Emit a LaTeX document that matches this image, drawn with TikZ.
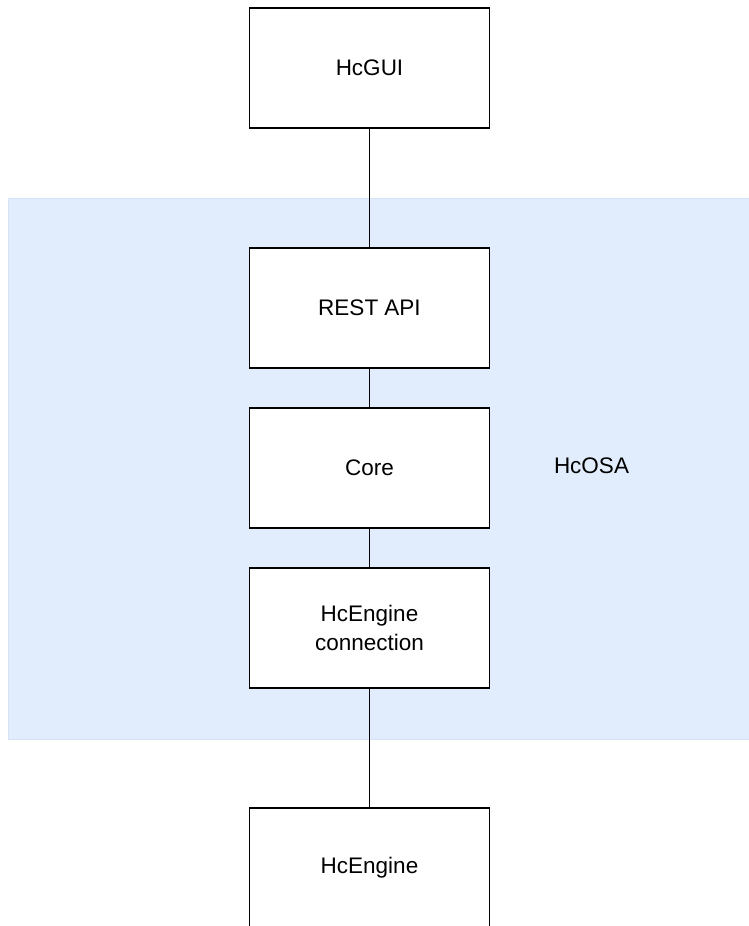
\documentclass[tikz,border=0pt]{standalone}
\usepackage{fontspec}
\setmainfont{Liberation Sans}
\definecolor{grpfill}{HTML}{E1EDFC}
\definecolor{grpline}{HTML}{D4E2F5}
\begin{document}
\begin{tikzpicture}[x=1pt,y=-1pt,
  blk/.style={draw=black, line width=1.2pt, fill=white, minimum width=240pt, minimum height=120pt,
    inner sep=0pt, align=center, font=\fontsize{22.5}{29}\selectfont},
  conn/.style={draw=black, line width=1.2pt},
  lbl/.style={font=\fontsize{22.5}{29}\selectfont, inner sep=0pt}]
\useasboundingbox (0,0) rectangle (749,926);
\clip (0,0) rectangle (749,926);
\fill[grpfill, draw=grpline, line width=0.8pt] (8,198.5) rectangle (760,739.5);
\node[lbl] (osa) at (591.5,466) {HcOSA};
\node[blk] (gui) at (369.5,68) {HcGUI};
\node[blk] (rest) at (369.5,308) {REST API};
\node[blk] (core) at (369.5,468) {Core};
\node[blk] (conn) at (369.5,628) {HcEngine\\connection};
\node[blk] (eng) at (369.5,868) {HcEngine};
\draw[conn] (gui.south) -- (rest.north);
\draw[conn] (rest.south) -- (core.north);
\draw[conn] (core.south) -- (conn.north);
\draw[conn] (conn.south) -- (eng.north);
\end{tikzpicture}
\end{document}
